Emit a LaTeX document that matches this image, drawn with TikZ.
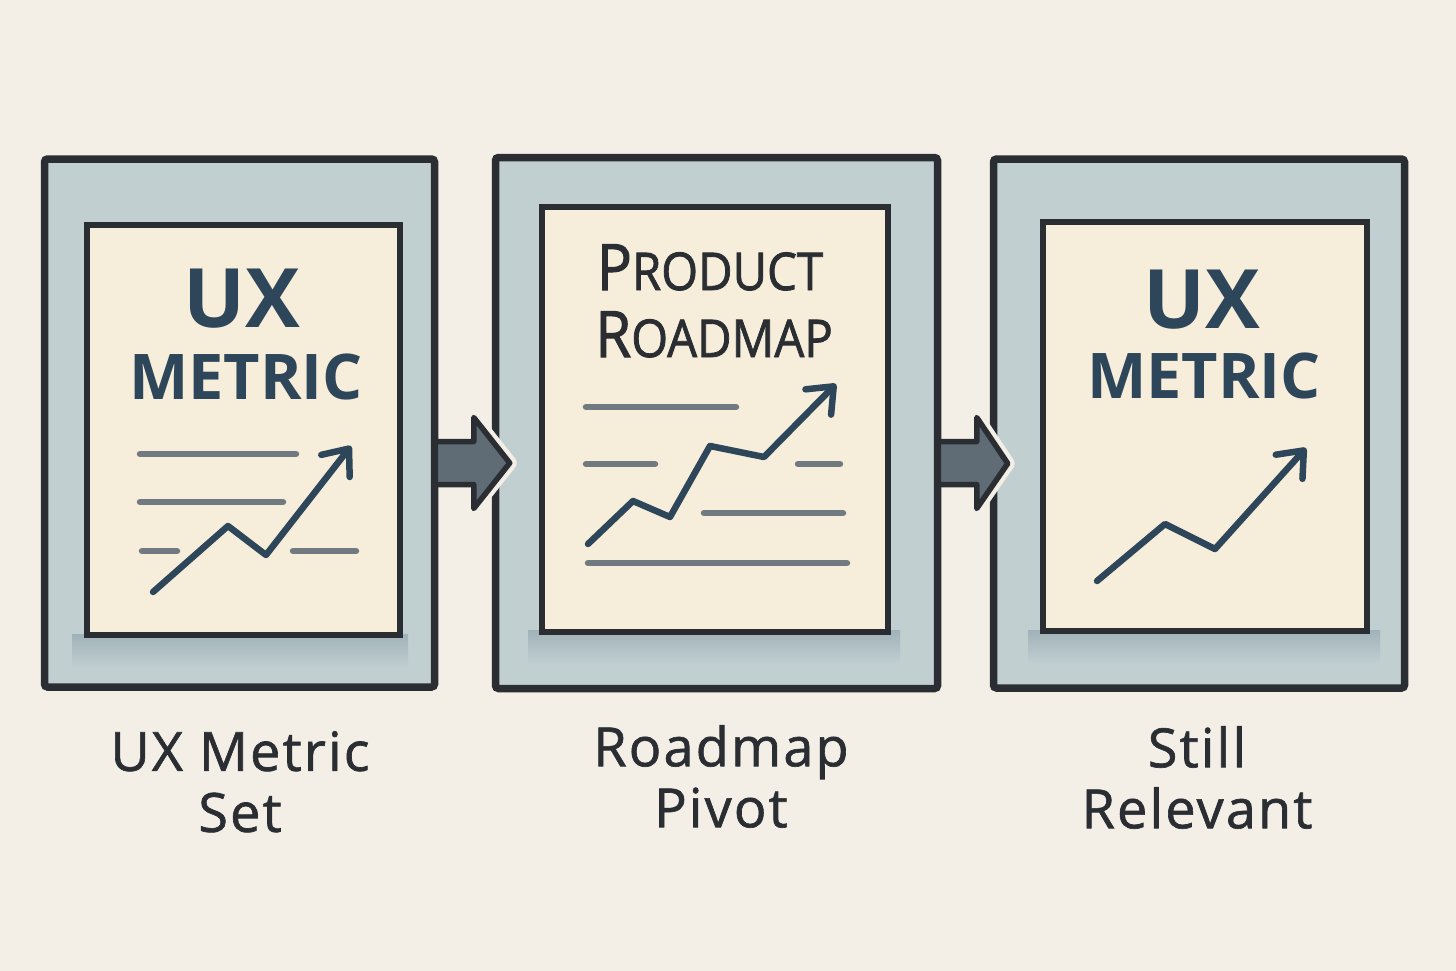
\documentclass[tikz,border=0pt]{standalone}
\usepackage{fontspec}
\setmainfont{Open Sans}
\usetikzlibrary{positioning,arrows.meta,calc}
\definecolor{fondo}{RGB}{244,239,230}
\definecolor{azul}{RGB}{193,207,209}
\definecolor{sombra}{RGB}{160,178,185}
\definecolor{papel}{RGB}{246,238,219}
\definecolor{borde}{RGB}{42,46,51}
\definecolor{tinta}{RGB}{46,70,90}
\definecolor{gris}{RGB}{113,122,128}
\definecolor{flecha}{RGB}{95,108,117}
\newcommand{\versal}[2]{{\fontsize{64}{64}\selectfont #1}{\fontsize{52}{52}\selectfont #2}}

\begin{document}
\begin{tikzpicture}[x=1pt, y=-1pt,
  marco/.style={rectangle, draw=borde, line width=7.5pt, fill=azul,
    rounded corners=3pt, inner sep=0pt},
  hoja/.style={rectangle, draw=borde, line width=6pt, fill=papel, inner sep=0pt},
  raya/.style={draw=gris, line width=6.5pt, line cap=round},
  curva/.style={draw=tinta, line width=6.5pt, line cap=round, line join=round,
    -{Straight Barb[length=22pt, width=36pt, round]}},
  titulo/.style={font=\bfseries\fontsize{82}{82}\selectfont,
    text=tinta, inner sep=0pt, anchor=base},
  subtit/.style={titulo, font=\bfseries\fontsize{63}{63}\selectfont},
  mano/.style={text=borde, inner sep=0pt, anchor=base,
    font=\addfontfeatures{FakeBold=1.6}},
  rotulo/.style={font=\fontsize{54}{61}\selectfont\addfontfeatures{LetterSpace=4,FakeBold=1.2},
    text=borde, align=center, inner sep=0pt, anchor=north},
  bloque/.style={fill=flecha, draw=borde, line width=5.5pt, line join=round},
]
\fill[fondo] (0,0) rectangle (1456,971);
\useasboundingbox (0,0) rectangle (1456,971);

% marcos
\node[marco, minimum width=390pt, minimum height=528pt] (p1) at (239.5,423) {};
\node[marco, minimum width=442pt, minimum height=531pt] (p2) at (716.5,423) {};
\node[marco, minimum width=411pt, minimum height=529pt] (p3) at (1199,423.5) {};

% sombras bajo las hojas
\shade[top color=sombra, bottom color=azul] (72,634) rectangle (408,668);
\shade[top color=sombra, bottom color=azul] (528,630) rectangle (900,664);
\shade[top color=sombra, bottom color=azul] (1028,630) rectangle (1380,664);

% hojas
\node[hoja, minimum width=313pt, minimum height=410pt] (h1) at (243.5,430) {};
\node[hoja, minimum width=346pt, minimum height=425pt] (h2) at (715,419.5) {};
\node[hoja, minimum width=324pt, minimum height=409pt] (h3) at (1205,426.5) {};

% hoja 1
\node[titulo] (ux1) at (242,327) {UX};
\node[subtit] (met1) at (246,399) {METRIC};
\draw[raya] (140,454) -- (296,454);
\draw[raya] (140,502) -- (283,502);
\draw[raya] (142,551) -- (177,551);
\draw[raya] (293,551) -- (356,551);
\draw[curva] (153,592) -- (228,526) -- (266,555) -- (351,446);

% hoja 2
\node[mano] (prod) at (710,290) {\scalebox{0.91}[1]{\versal{P}{RODUCT}}};
\node[mano] (ruta) at (714,357) {\scalebox{0.91}[1]{\versal{R}{OADMAP}}};
\draw[raya] (586,407) -- (736,407);
\draw[raya] (586,464) -- (655,464);
\draw[raya] (798,464) -- (840,464);
\draw[raya] (704,513) -- (843,513);
\draw[raya] (588,563) -- (847,563);
\draw[curva] (588,544) -- (633,501) -- (670,517) -- (710,446) -- (764,457) -- (836,384);

% hoja 3
\node[titulo] (ux3) at (1202,328) {UX};
\node[subtit] (met3) at (1204,398) {METRIC};
\draw[curva] (1097,581) -- (1165,524) -- (1215,549) -- (1306,448);

% flechas entre marcos
\foreach \a/\b in {p1/p2, p2/p3} {
  \coordinate (s) at ($(\a.east)+(-3,40)$);
  \coordinate (t) at ($(\b.west)+(18,40)$);
  \draw[fondo, line width=14pt, line join=round]
    ($(s)+(38.5,-21.5)$) -- ($(s)+(38.5,-45.5)$) -- (t)
    -- ($(s)+(38.5,45.5)$) -- ($(s)+(38.5,21.5)$);
  \filldraw[bloque] (s) ++(0,-21.5) -- ($(s)+(38.5,-21.5)$)
    -- ($(s)+(38.5,-45.5)$) -- (t) -- ($(s)+(38.5,45.5)$)
    -- ($(s)+(38.5,21.5)$) -- ($(s)+(0,21.5)$) -- cycle;
}

% rotulos
\node[rotulo] (r1) at (240,731) {UX Metric\\Set};
\node[rotulo] (r2) at (721,725) {Roadmap\\Pivot};
\node[rotulo] (r3) at (1197,726) {Still\\Relevant};
\end{tikzpicture}
\end{document}
